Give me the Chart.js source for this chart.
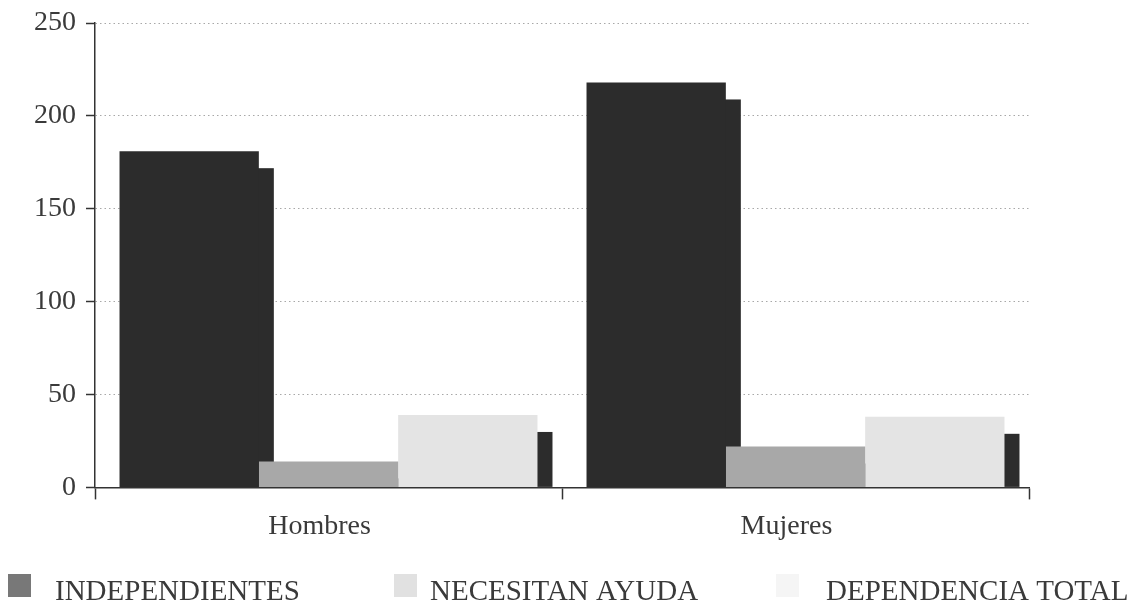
<!DOCTYPE html>
<html>
<head>
<meta charset="utf-8">
<title>Dependencia por sexo</title>
<script src="https://cdn.jsdelivr.net/npm/chart.js@4.4.1/dist/chart.umd.min.js"></script>
<style>
  html, body { margin: 0; padding: 0; background: #ffffff; }
  #wrap { position: relative; width: 1131px; height: 606px; }
</style>
</head>
<body>
<div id="wrap"><canvas id="grafico"></canvas></div>
<script>
// Datos
const categories = ['Hombres', 'Mujeres'];
const seriesNames = ['INDEPENDIENTES', 'NECESITAN AYUDA', 'DEPENDENCIA TOTAL'];
const independientes = [181, 218];
const necesitanAyuda = [14, 22];
const dependenciaTotal = [39, 38];
const yTicks = [0, 50, 100, 150, 200, 250];

// Estilo
const SERIF = "'Liberation Serif', 'Times New Roman', serif";
const TEXT = '#3a3a3a';
const AXIS = '#333333';
const barColors = ['#2c2c2c', '#a8a8a8', '#e4e4e4'];
const legendColors = ['#787878', '#e1e1e1', '#f5f5f5'];

// Sombra oscura desplazada detrás de cada barra (efecto de profundidad)
const depthShadow = {
  id: 'depthShadow',
  beforeDatasetsDraw(chart, args, opts) {
    const { ctx, chartArea: a } = chart;
    ctx.save();
    ctx.beginPath();
    ctx.rect(a.left, a.top, a.right - a.left, a.bottom - a.top);
    ctx.clip();
    ctx.fillStyle = opts.color;
    chart.getSortedVisibleDatasetMetas().forEach(meta => {
      meta.data.forEach(bar => {
        const { x, y, base, width } = bar.getProps(['x', 'y', 'base', 'width'], true);
        const left = x - width / 2 + opts.dx;
        const top = y + opts.dy;
        if (base > top) ctx.fillRect(left, top, width, base - top);
      });
    });
    ctx.restore();
  }
};

// Leyenda repartida a lo ancho bajo el gráfico
const wideLegend = {
  id: 'wideLegend',
  afterDraw(chart, args, opts) {
    const ctx = chart.ctx;
    ctx.save();
    ctx.font = opts.font;
    ctx.textBaseline = 'alphabetic';
    ctx.textAlign = 'left';
    chart.data.datasets.forEach((ds, i) => {
      ctx.fillStyle = opts.colors[i];
      ctx.fillRect(opts.boxX[i], opts.boxTop, opts.boxW, opts.boxH);
      ctx.fillStyle = opts.textColor;
      ctx.fillText(ds.label, opts.textX[i], opts.baseline);
    });
    ctx.restore();
  }
};

const common = {
  categoryPercentage: 0.895,
  barPercentage: 1.0,
  borderWidth: 0,
  borderSkipped: false
};

new Chart(document.getElementById('grafico'), {
  type: 'bar',
  data: {
    labels: categories,
    datasets: [
      { label: seriesNames[0], data: independientes, backgroundColor: barColors[0], ...common },
      { label: seriesNames[1], data: necesitanAyuda, backgroundColor: barColors[1], ...common },
      { label: seriesNames[2], data: dependenciaTotal, backgroundColor: barColors[2], ...common }
    ]
  },
  options: {
    responsive: true,
    maintainAspectRatio: false,
    animation: false,
    events: [],
    layout: { padding: { left: 24, right: 102, top: 20, bottom: 53 } },
    scales: {
      x: {
        grid: {
          display: true,
          offset: true,
          drawOnChartArea: false,
          drawTicks: true,
          tickLength: 12,
          tickColor: AXIS,
          tickWidth: 1.5
        },
        border: { display: true, color: AXIS, width: 1.5 },
        ticks: {
          color: TEXT,
          font: { family: SERIF, size: 28 },
          padding: 10,
          labelOffset: -9
        }
      },
      y: {
        min: 0,
        max: 250,
        afterBuildTicks: axis => { axis.ticks = yTicks.map(v => ({ value: v })); },
        grid: {
          color: '#a8a8a8',
          lineWidth: 1,
          drawTicks: true,
          tickLength: 9,
          tickColor: AXIS,
          tickWidth: 1.5,
          tickBorderDash: []
        },
        border: { display: true, color: AXIS, width: 1.5, dash: [1.5, 3] },
        ticks: {
          color: TEXT,
          font: { family: SERIF, size: 28, lineHeight: 0.93 },
          padding: 10
        }
      }
    },
    plugins: {
      legend: { display: false },
      tooltip: { enabled: false },
      depthShadow: { color: '#2c2c2c', dx: 15, dy: 17 },
      wideLegend: {
        font: '29px ' + SERIF,
        textColor: TEXT,
        colors: legendColors,
        boxX: [8, 394, 776],
        textX: [55, 430, 826],
        boxTop: 574,
        boxW: 23,
        boxH: 23,
        baseline: 600
      }
    }
  },
  plugins: [depthShadow, wideLegend]
});
</script>
</body>
</html>
